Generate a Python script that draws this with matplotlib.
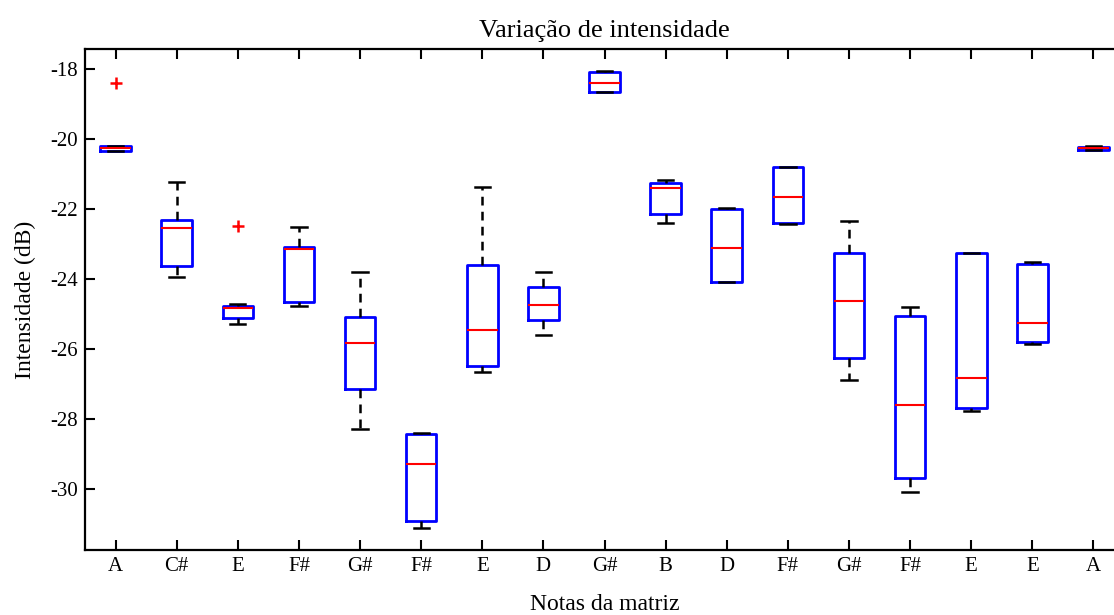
import matplotlib
matplotlib.use('Agg')
import matplotlib.pyplot as plt

# Notes of the matrix (x categories)
notes = ['A', 'C#', 'E', 'F#', 'G#', 'F#', 'E', 'D', 'G#', 'B', 'D', 'F#', 'G#', 'F#', 'E', 'E', 'A']

# Box statistics (dB)
medians = [-20.27, -22.53, -24.84, -23.15, -25.82, -29.28, -25.46, -24.73, -18.39,
           -21.39, -23.11, -21.66, -24.63, -27.59, -26.82, -25.26, -20.27]
q3 = [-20.20, -22.31, -24.76, -23.09, -25.09, -28.42, -23.59, -24.24, -18.09,
      -21.27, -21.99, -20.79, -23.25, -25.05, -23.25, -23.56, -20.22]
q1 = [-20.34, -23.62, -25.12, -24.66, -27.15, -30.92, -26.49, -25.17, -18.65,
      -22.14, -24.09, -22.40, -26.26, -29.69, -27.67, -25.81, -20.32]
whisker_hi = [-20.20, -21.22, -24.71, -22.51, -23.80, -28.40, -21.38, -23.80, -18.07,
              -21.17, -21.96, -20.79, -22.33, -24.81, -23.25, -23.52, -20.19]
whisker_lo = [-20.34, -23.95, -25.29, -24.76, -28.29, -31.10, -26.66, -25.60, -18.65,
              -22.41, -24.09, -22.42, -26.87, -30.07, -27.76, -25.86, -20.32]
outliers = [[-18.41], [], [-22.48], [], [], [], [], [], [],
            [], [], [], [], [], [], [], []]


def build_stats():
    """Pack the read values into the dicts that Axes.bxp expects."""
    stats = []
    for i in range(len(notes)):
        stats.append({
            'med': medians[i],
            'q1': q1[i],
            'q3': q3[i],
            'whislo': whisker_lo[i],
            'whishi': whisker_hi[i],
            'fliers': outliers[i],
        })
    return stats


plt.rcParams['font.family'] = ['Liberation Serif', 'DejaVu Serif']

fig = plt.figure(figsize=(11.14, 6.15), dpi=100)
# axes runs a little past the right edge, as in the reference crop
ax = fig.add_axes([0.0763, 0.1057, 0.9327, 0.8146])

positions = list(range(1, len(notes) + 1))
ax.bxp(build_stats(), positions=positions, widths=0.5, capwidths=0.25,
       boxprops=dict(color=(0, 0, 1), linewidth=2),
       medianprops=dict(color=(1, 0, 0), linewidth=1.5),
       whiskerprops=dict(color='black', linewidth=1.8, linestyle=(0, (3.5, 2.5))),
       capprops=dict(color='black', linewidth=1.8),
       flierprops=dict(marker='+', markeredgecolor=(1, 0, 0), markersize=8,
                       markeredgewidth=1.8, linestyle='none'))

ax.set_xlim(0.5, len(notes) + 0.5)
ax.set_ylim(-31.74, -17.43)
ax.set_xticks(positions)
ax.set_xticklabels(notes)
ax.set_yticks([-30, -28, -26, -24, -22, -20, -18])
ax.set_yticklabels(['-30', '-28', '-26', '-24', '-22', '-20', '-18'])

ax.tick_params(direction='in', length=7, width=1.5, labelsize=15,
               top=True, right=True, pad=5)
for spine in ax.spines.values():
    spine.set_linewidth(1.6)

ax.set_title('Variação de intensidade', fontsize=19, pad=9)
ax.set_xlabel('Notas da matriz', fontsize=17, labelpad=13)
ax.set_ylabel('Intensidade (dB)', fontsize=17, labelpad=10)

fig.savefig('out.png', dpi=100)
